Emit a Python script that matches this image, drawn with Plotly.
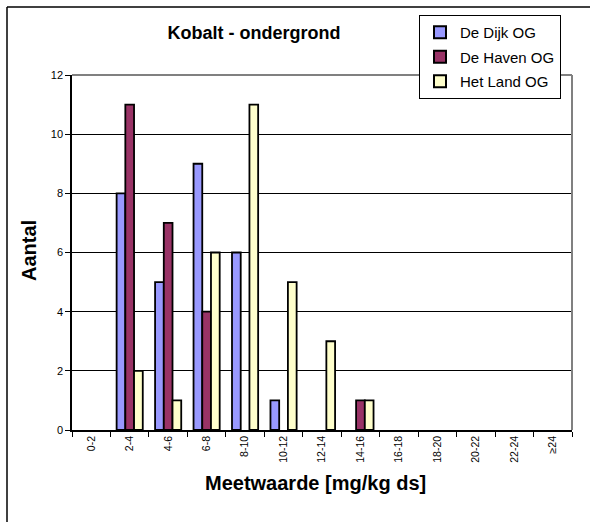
import plotly.graph_objects as go

categories = ["0-2", "2-4", "4-6", "6-8", "8-10", "10-12", "12-14", "14-16",
              "16-18", "18-20", "20-22", "22-24", "≥24"]
dijk = [0, 8, 5, 9, 6, 1, 0, 0, 0, 0, 0, 0, 0]
haven = [0, 11, 7, 4, 0, 0, 0, 1, 0, 0, 0, 0, 0]
land = [0, 2, 1, 6, 11, 5, 3, 1, 0, 0, 0, 0, 0]
series_names = ["De Dijk OG", "De Haven OG", "Het Land OG"]
colors = ["#9999FF", "#993366", "#FFFFCC"]
yticks = [0, 2, 4, 6, 8, 10, 12]

fig = go.Figure()
for i, (name, vals, col) in enumerate(zip(series_names, [dijk, haven, land], colors)):
    fig.add_trace(go.Bar(
        x=categories, y=vals, name=name, legendgroup=f"g{i}",
        marker=dict(color=col, line=dict(color="black",
                                         width=[0 if v == 0 else 1.8 for v in vals])),
    ))

W, H = 590, 522
L, R, T, B = 72, 18, 75, 92
pw, ph = W - L - R, H - T - B


def px(x):
    return (x - L) / pw


def py(y):
    return (H - B - y) / ph


fig.update_layout(
    width=W, height=H,
    margin=dict(l=L, r=R, t=T, b=B),
    paper_bgcolor="white", plot_bgcolor="white",
    barmode="group", bargap=0.32, bargroupgap=0,
    font=dict(family="Arial, Liberation Sans, sans-serif", color="black"),
    title=dict(text="<b>Kobalt - ondergrond</b>", x=254 / W, xanchor="center",
               y=1 - 33 / H, yanchor="middle", font=dict(size=18)),
    showlegend=True,
    legend=dict(x=px(561), xanchor="right", y=py(15), yanchor="top",
                bordercolor="black", borderwidth=1, bgcolor="white",
                font=dict(size=15), itemwidth=30, tracegroupgap=2,
                itemsizing="constant"),
    xaxis=dict(
        type="category", tickson="boundaries", ticks="outside", ticklen=5,
        tickcolor="black", showline=True, linecolor="black", linewidth=1.5,
        tickangle=-90, tickfont=dict(size=10.5), showgrid=False,
    ),
    yaxis=dict(
        range=[0, 12], tickvals=yticks, ticks="outside", ticklen=5,
        tickcolor="black", showline=True, linecolor="black", linewidth=1.5,
        showgrid=True, gridcolor="black", gridwidth=1, zeroline=False,
        tickfont=dict(size=11),
    ),
    annotations=[
        dict(text="<b>Meetwaarde [mg/kg ds]</b>", xref="paper", yref="paper",
             x=px(315), y=py(483), xanchor="center", yanchor="middle",
             showarrow=False, font=dict(size=20)),
        dict(text="<b>Aantal</b>", xref="paper", yref="paper",
             x=px(29), y=py(251), xanchor="center", yanchor="middle",
             textangle=-90, showarrow=False, font=dict(size=20)),
    ],
    shapes=[
        dict(type="line", xref="paper", yref="paper", x0=0, x1=1, y0=1, y1=1,
             line=dict(color="gray", width=2), layer="above"),
        dict(type="line", xref="paper", yref="paper", x0=1, x1=1, y0=0, y1=1,
             line=dict(color="gray", width=2), layer="above"),
        dict(type="line", xref="paper", yref="paper", x0=px(7), x1=px(600),
             y0=py(7), y1=py(7),
             line=dict(color="black", width=1.5), layer="above"),
        dict(type="line", xref="paper", yref="paper", x0=px(7), x1=px(7),
             y0=py(600), y1=py(7),
             line=dict(color="black", width=1.5), layer="above"),
    ],
)

fig.write_html("out.html")
